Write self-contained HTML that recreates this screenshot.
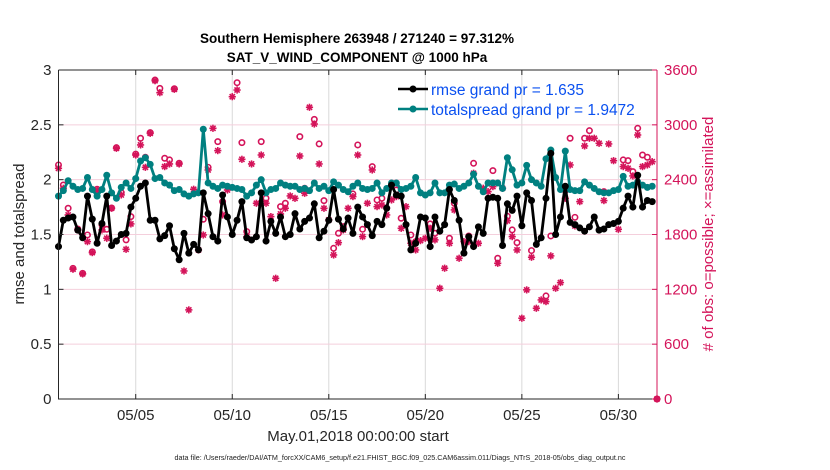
<!DOCTYPE html>
<html><head><meta charset="utf-8"><style>
body{margin:0;background:#fff;}
svg{display:block;font-family:"Liberation Sans",Arial,sans-serif;}
</style></head><body>
<svg id="chart" width="830" height="470" viewBox="0 0 830 470">
<text x="357" y="43" font-size="13.5" font-weight="bold" text-anchor="middle">Southern Hemisphere 263948 / 271240 = 97.312%</text>
<text x="357" y="62" font-size="13.5" font-weight="bold" text-anchor="middle">SAT_V_WIND_COMPONENT @ 1000 hPa</text>
<g id="grid"></g>
<g id="marks"></g>
<g id="axes"></g>
<text x="358" y="441" font-size="15" text-anchor="middle" fill="#262626">May.01,2018 00:00:00 start</text>
<text transform="translate(24,234) rotate(-90)" font-size="15" text-anchor="middle" fill="#262626">rmse and totalspread</text>
<text transform="translate(713,234) rotate(-90)" font-size="15" text-anchor="middle" fill="#d4145a"># of obs: o=possible; ×=assimilated</text>
<text x="400" y="460" font-size="7.2" text-anchor="middle" fill="#222">data file: /Users/raeder/DAI/ATM_forcXX/CAM6_setup/f.e21.FHIST_BGC.f09_025.CAM6assim.011/Diags_NTrS_2018-05/obs_diag_output.nc</text>
<g id="legend">
<line x1="398" y1="89" x2="428" y2="89" stroke="#000" stroke-width="2.5"/>
<circle cx="413" cy="89" r="3.5" fill="#000"/>
<text x="431" y="95" font-size="15.5" fill="#0a50f0">rmse grand pr = 1.635</text>
<line x1="398" y1="109" x2="428" y2="109" stroke="#008080" stroke-width="2.5"/>
<circle cx="413" cy="109" r="3.5" fill="#008080"/>
<text x="431" y="115" font-size="15.5" fill="#0a50f0">totalspread grand pr = 1.9472</text>
</g>
</svg>
<script>
const tickDays=[5,10,15,20,25,30];
const tickLabels=["05/05","05/10","05/15","05/20","05/25","05/30"];
const leftTicks=[0,0.5,1,1.5,2,2.5,3];
const leftTickLabels=["0","0.5","1","1.5","2","2.5","3"];
const rightTicks=[0,600,1200,1800,2400,3000,3600];
const rmse=[1.39,1.63,1.65,1.66,1.54,1.47,1.85,1.64,1.42,1.60,1.85,1.40,1.44,1.50,1.51,1.75,1.83,1.94,1.97,1.63,1.63,1.46,1.49,1.58,1.37,1.27,1.51,1.33,1.41,1.36,1.88,1.69,
1.48,1.44,1.86,1.66,1.50,1.63,1.80,1.47,1.45,1.48,1.88,1.44,1.62,1.51,1.66,1.48,1.50,1.69,1.55,1.62,1.65,1.78,1.47,1.53,1.63,1.91,1.64,1.55,1.65,1.51,1.75,
1.66,1.59,1.49,1.62,1.59,1.74,1.95,1.86,1.85,1.59,1.36,1.42,1.66,1.65,1.39,1.66,1.53,1.59,1.91,1.81,1.63,1.33,1.48,1.39,1.57,1.51,1.83,1.84,1.83,1.40,1.78,
1.72,1.85,1.58,1.88,1.81,1.41,1.47,1.83,2.24,1.50,1.66,1.94,1.61,1.59,1.56,1.53,1.57,1.66,1.54,1.55,1.59,1.60,1.62,1.74,1.85,1.75,2.04,1.75,1.81,1.80];
const spread=[1.85,1.90,1.99,1.94,1.91,1.92,2.02,1.91,1.85,1.91,2.04,1.88,1.83,1.93,1.97,1.92,2.01,2.17,2.20,2.14,2.01,2.02,1.97,1.95,1.90,1.91,1.87,1.85,1.87,1.88,2.46,1.97,
1.94,1.92,1.95,1.94,1.93,1.92,1.91,1.85,1.88,1.95,2.00,1.88,1.91,1.92,1.97,1.95,1.94,1.94,1.91,1.92,1.90,1.97,1.92,1.94,1.90,1.98,1.95,1.91,1.89,1.94,1.97,
1.92,1.91,1.92,1.97,1.88,1.92,1.97,1.97,1.91,1.92,1.94,2.02,1.88,1.86,1.88,1.97,1.88,1.88,1.95,1.96,1.92,1.94,1.97,2.05,1.94,1.89,1.97,1.97,1.97,1.92,2.20,
2.09,1.95,1.97,2.13,2.00,1.97,1.94,2.19,2.27,2.02,1.91,2.26,1.91,1.90,1.90,1.98,1.95,1.92,1.89,1.88,1.88,1.90,1.91,2.03,1.94,1.95,1.98,1.95,1.93,1.94];
const possible=[2561,2342,2087,1430,1860,1375,1795,1610,2295,1905,1857,2090,2750,2258,1741,1996,2680,2853,2645,2915,3490,3399,2634,2616,3395,2580,null,null,null,null,1967,2535,
null,2816,2160,2324,null,3461,2805,1832,null,null,2816,2196,null,null,2105,2142,null,null,2871,2306,null,3060,2791,2171,null,1649,1813,1886,null,2244,2780,
1857,null,2543,2178,2196,2087,null,2287,1978,null,1795,1722,null,null,1916,1813,null,null,1759,2142,null,null,1784,2579,null,null,null,2499,1540,null,2000,
1850,1711,null,null,1624,null,null,1128,1784,null,null,2280,2853,1988,null,2853,2936,null,null,2269,null,null,null,2616,2608,2488,2962,2670,2645,null,0];
const assimilated=[2524,2306,2014,1420,1850,1369,1722,1602,2287,1850,1759,2087,2743,2233,1638,1916,2670,2780,2535,2907,3483,3352,2543,2572,3389,2572,1401,975,2295,1631,1795,2506,
2962,2718,2014,2287,3308,3381,2623,1777,2572,2142,2670,2142,1996,1321,2025,2087,2222,2196,2659,2251,3192,3009,2572,2087,1959,1576,1711,1850,2087,2215,2670,
1777,2142,2506,2105,2123,2014,2178,2215,1868,2105,1704,1631,1733,1759,1868,1741,1212,1431,1704,2069,1540,1722,1722,2470,1704,2306,2269,2324,1485,2306,1950,
1777,1631,884,1194,1551,993,1084,1066,1566,1212,1274,2196,2561,1894,2160,2769,2853,2853,2798,2171,2791,2608,1857,2543,2524,2441,2889,2543,2561,2597,0];

const NS='http://www.w3.org/2000/svg';
const X0=58.5,X1=657,Y0=399,Y1=70;
const dayMin=1,dayMax=32;
function xDay(d){return X0+(d-dayMin)/(dayMax-dayMin)*(X1-X0);}
function xIdx(i){return xDay(1+i*0.25);}
function yL(v){return Y0-(v/3)*(Y0-Y1);}
function yR(v){return Y0-(v/3600)*(Y0-Y1);}
function mk(tag,attrs,parent){const e=document.createElementNS(NS,tag);for(const k in attrs)e.setAttribute(k,attrs[k]);parent.appendChild(e);return e;}
const grid=document.getElementById('grid'),marks=document.getElementById('marks'),axes=document.getElementById('axes');
const PINK='#d4145a',TEAL='#008080';
tickDays.forEach((d,i)=>{const l=mk('line',{x1:xDay(d),x2:xDay(d),y1:Y1,y2:Y0,stroke:'#d9d9d9','stroke-width':1},grid);

});
rightTicks.forEach(v=>{if(v===0||v===3600)return;const l=mk('line',{x1:X0,x2:X1,y1:yR(v),y2:yR(v),stroke:'#f4cfdc','stroke-width':1},grid);

});
function star(x,y,name){const g=mk('g',{stroke:PINK,'stroke-width':1.6},marks);


const r=3.6,q=2.6;mk('line',{x1:x-r,x2:x+r,y1:y,y2:y},g);mk('line',{x1:x,x2:x,y1:y-r,y2:y+r},g);
mk('line',{x1:x-q,x2:x+q,y1:y-q,y2:y+q},g);mk('line',{x1:x-q,x2:x+q,y1:y+q,y2:y-q},g);}
possible.forEach((v,i)=>{if(v===null)return;const c=mk('circle',{cx:xIdx(i),cy:yR(v),r:2.7,fill:'none',stroke:PINK,'stroke-width':1.6},marks);

});
assimilated.forEach((v,i)=>{if(v===null)return;star(xIdx(i),yR(v),'obs-assimilated-point');});
function series(arr,color,name){const p=mk('polyline',{points:arr.map((v,i)=>xIdx(i)+','+yL(v)).join(' '),fill:'none',stroke:color,'stroke-width':2.8,'stroke-linejoin':'round'},marks);


arr.forEach((v,i)=>{const c=mk('circle',{cx:xIdx(i),cy:yL(v),r:3.5,fill:color},marks);

});}
series(spread,TEAL,'totalspread');
series(rmse,'#000','rmse');
const frame=mk('path',{d:`M${X0},${Y1}H${X1}M${X0},${Y1}V${Y0}H${X1}`,fill:'none',stroke:'#262626','stroke-width':1},axes);


const ra=mk('line',{x1:X1,x2:X1,y1:Y1,y2:Y0,stroke:PINK,'stroke-width':1},axes);


tickDays.forEach((d,i)=>{mk('line',{x1:xDay(d),x2:xDay(d),y1:Y0,y2:Y0-5,stroke:'#262626'},axes);mk('line',{x1:xDay(d),x2:xDay(d),y1:Y1,y2:Y1+5,stroke:'#262626'},axes);
const t=mk('text',{x:xDay(d),y:Y0+21,'font-size':15,'text-anchor':'middle',fill:'#262626'},axes);t.textContent=tickLabels[i];

});
leftTicks.forEach((v,i)=>{mk('line',{x1:X0,x2:X0+5,y1:yL(v),y2:yL(v),stroke:'#262626'},axes);
const t=mk('text',{x:X0-7,y:yL(v)+5,'font-size':15,'text-anchor':'end',fill:'#262626'},axes);t.textContent=leftTickLabels[i];

});
rightTicks.forEach(v=>{mk('line',{x1:X1,x2:X1-5,y1:yR(v),y2:yR(v),stroke:PINK},axes);
const t=mk('text',{x:X1+7,y:yR(v)+5,'font-size':15,'text-anchor':'start',fill:PINK},axes);t.textContent=String(v);

});
</script>
</body></html>
